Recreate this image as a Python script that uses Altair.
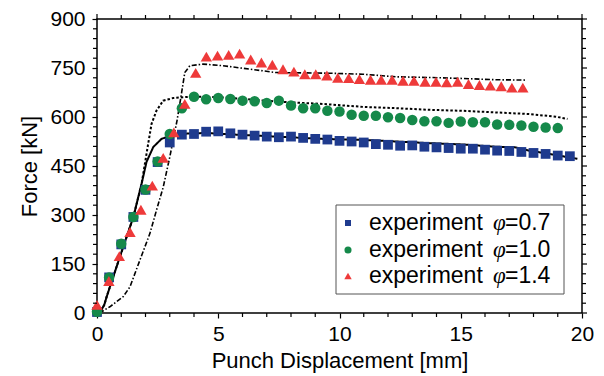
import altair as alt
import pandas as pd

# ---------------- data ----------------
blue_x = [0, 0.5, 1.0, 1.5, 2.0, 2.5, 3.0, 3.5, 4.0, 4.5, 5.0, 5.5, 6.0, 6.5, 7.0, 7.5, 8.0, 8.5, 9.0, 9.5,
          10.0, 10.5, 11.0, 11.5, 12.0, 12.5, 13.0, 13.5, 14.0, 14.5, 15.0, 15.5, 16.0, 16.5, 17.0, 17.5,
          18.0, 18.5, 19.0, 19.5]
blue_y = [3, 109, 210, 294, 377, 462, 522, 546, 548, 555, 556, 550, 546, 543, 540, 538, 540, 536, 533, 531,
          527, 525, 522, 517, 515, 512, 513, 509, 507, 505, 503, 503, 500, 497, 496, 493, 490, 487, 482, 480]

green_x = [0, 0.5, 1.0, 1.5, 2.0, 2.5, 3.0, 3.5, 4.0, 4.5, 5.0, 5.5, 6.0, 6.5, 7.0, 7.5, 8.0, 8.5, 9.0, 9.5,
           10.0, 10.5, 11.0, 11.5, 12.0, 12.5, 13.0, 13.5, 14.0, 14.5, 15.0, 15.5, 16.0, 16.5, 17.0, 17.5,
           18.0, 18.5, 19.0]
green_y = [4, 109, 212, 294, 378, 464, 548, 627, 662, 654, 658, 655, 650, 648, 643, 650, 635, 627, 627, 619,
           617, 607, 604, 604, 599, 597, 591, 587, 587, 582, 586, 584, 584, 577, 576, 574, 570, 568, 566]

red_x = [0.0, 0.49, 0.92, 1.36, 1.81, 2.28, 2.73, 3.17, 3.62, 4.07, 4.51, 4.97, 5.43, 5.88, 6.34, 6.78,
         7.23, 7.67, 8.12, 8.57, 9.02, 9.48, 9.93, 10.38, 10.82, 11.28, 11.72, 12.17, 12.62, 13.07, 13.53,
         13.98, 14.42, 14.87, 15.32, 15.77, 16.22, 16.67, 17.11, 17.56]
red_y = [25, 98, 174, 248, 316, 390, 475, 553, 640, 735, 785, 788, 790, 794, 776, 767, 760, 746, 739, 731,
         731, 727, 720, 719, 716, 714, 714, 714, 711, 711, 708, 708, 706, 708, 701, 698, 696, 694, 690, 690]

sim07_x = [0, 0.15, 0.3, 0.4, 0.67, 1.08, 1.5, 1.84, 2.04, 2.32, 2.66, 3.14, 3.83, 4.51, 5.2, 6.57, 7.94,
           9.31, 10.96, 12.33, 13.7, 15.07, 16.45, 17.27, 17.82, 18.5, 19.19, 19.81]
sim07_y = [0, 5, 25, 50, 111, 202, 294, 396, 462, 508, 533, 545, 550, 551, 548, 543, 538,
           533, 530, 525, 520, 516, 509, 507, 497, 489, 480, 472]

sim10_x = [0, 0.15, 0.3, 0.4, 0.67, 1.08, 1.5, 1.84, 2.11, 2.25, 2.45, 2.73, 3.14, 3.83, 4.51, 5.2, 6.57,
           7.94, 9.31, 10.96, 12.33, 13.7, 15.07, 16.45, 17.82, 18.92, 19.4]
sim10_y = [0, 5, 25, 50, 111, 202, 294, 396, 518, 579, 619, 650, 658, 662, 662, 660, 652,
           645, 640, 631, 627, 622, 619, 614, 609, 601, 594]

sim14_x = [0.1, 0.53, 1.08, 1.36, 1.77, 2.18, 2.45, 2.73, 3.0, 3.3, 3.48, 3.62, 3.83, 4.37, 5.2, 6.57,
           7.39, 8.63, 9.59, 10.96, 12.33, 13.7, 15.07, 16.45, 17.68]
sim14_y = [0, 19, 50, 80, 162, 243, 314, 385, 477, 589, 670, 736, 757, 762, 757, 744,
           736, 735, 734, 731, 723, 721, 718, 714, 713]

x_major = [0, 5, 10, 15, 20]
x_minor = [v for v in range(0, 21) if v % 5 != 0]
y_major = [0, 150, 300, 450, 600, 750, 900]
y_minor = [v for v in range(0, 901, 30) if v % 150 != 0]

legend_values = ["=0.7", "=1.0", "=1.4"]
colors = ["#1f3b8e", "#15894a", "#ee3a3a"]
shapes = ["square", "circle", "triangle-up"]

FONT = "Liberation Sans"
W, H = 485, 294

xs = alt.Scale(domain=[0, 20], nice=False, zero=False)
ys = alt.Scale(domain=[0, 900], nice=False, zero=False)

xaxis = alt.Axis(values=x_major, format="d", title="Punch Displacement [mm]", grid=False, domain=False,
                 tickSize=5, tickColor="black", tickWidth=1.2, labelFontSize=21, labelFont=FONT,
                 labelColor="black", labelPadding=5, labelFlush=False, labelOverlap=False,
                 titleFont=FONT, titleFontSize=22,
                 titleFontWeight="normal", titleColor="black", titlePadding=6)
yaxis = alt.Axis(values=y_major, format="d", title="Force [kN]", grid=False, domain=False,
                 tickSize=5, tickColor="black", tickWidth=1.2, labelFontSize=21, labelFont=FONT,
                 labelColor="black", labelPadding=7, labelFlush=False, labelOverlap=False,
                 titleFont=FONT, titleFontSize=22,
                 titleFontWeight="normal", titleColor="black", titlePadding=8)


def line_layer(xv, yv, dash, width):
    df = pd.DataFrame({"x": xv, "y": yv})
    return alt.Chart(df).mark_line(color="black", strokeWidth=width, strokeDash=dash).encode(
        x=alt.X("x:Q", scale=xs, axis=xaxis), y=alt.Y("y:Q", scale=ys, axis=yaxis))


def point_layer(xv, yv, shape, color, size):
    df = pd.DataFrame({"x": xv, "y": yv})
    return alt.Chart(df).mark_point(filled=True, opacity=1, shape=shape, color=color, size=size).encode(
        x=alt.X("x:Q", scale=xs), y=alt.Y("y:Q", scale=ys))


layers = []
layers.append(line_layer(sim07_x, sim07_y, [1, 0], 2))
layers.append(line_layer(sim10_x, sim10_y, [2.5, 2], 2))
layers.append(line_layer(sim14_x, sim14_y, [5, 2, 1.5, 2], 1.6))
layers.append(point_layer(blue_x, blue_y, shapes[0], colors[0], 95))
layers.append(point_layer(green_x, green_y, shapes[1], colors[1], 110))
layers.append(point_layer(red_x, red_y, shapes[2], colors[2], 130))

# minor / mirrored ticks
xmin_df = pd.DataFrame({"x": x_minor})
xmaj_df = pd.DataFrame({"x": x_major})
ymin_df = pd.DataFrame({"y": y_minor})
ymaj_df = pd.DataFrame({"y": y_major})
tick = dict(color="black", strokeWidth=1.2)
layers.append(alt.Chart(xmin_df).mark_rule(**tick).encode(
    x=alt.X("x:Q", scale=xs), y=alt.value(H), y2=alt.value(H + 4)))
layers.append(alt.Chart(xmin_df).mark_rule(**tick).encode(
    x=alt.X("x:Q", scale=xs), y=alt.value(-4), y2=alt.value(0)))
layers.append(alt.Chart(xmaj_df).mark_rule(**tick).encode(
    x=alt.X("x:Q", scale=xs), y=alt.value(-5), y2=alt.value(0)))
layers.append(alt.Chart(ymin_df).mark_rule(**tick).encode(
    y=alt.Y("y:Q", scale=ys), x=alt.value(-4), x2=alt.value(0)))
layers.append(alt.Chart(ymin_df).mark_rule(**tick).encode(
    y=alt.Y("y:Q", scale=ys), x=alt.value(W), x2=alt.value(W + 4)))
layers.append(alt.Chart(ymaj_df).mark_rule(**tick).encode(
    y=alt.Y("y:Q", scale=ys), x=alt.value(W), x2=alt.value(W + 5)))

# legend (manual, for italic phi)
one = pd.DataFrame({"a": [0]})
layers.append(alt.Chart(one).mark_rect(fill="white", stroke="#555555", strokeWidth=1).encode(
    x=alt.value(239), x2=alt.value(467), y=alt.value(186), y2=alt.value(275)))
row_y = [204, 231, 257]
sym_sizes = [36, 50, 55]
for i in range(3):
    layers.append(alt.Chart(one).mark_point(filled=True, opacity=1, shape=shapes[i], color=colors[i],
                                            size=sym_sizes[i]).encode(
        x=alt.value(251), y=alt.value(row_y[i])))
    layers.append(alt.Chart(one).mark_text(text="experiment", font=FONT, fontSize=23, align="left",
                                           baseline="middle", color="black").encode(
        x=alt.value(272), y=alt.value(row_y[i])))
    layers.append(alt.Chart(one).mark_text(text="φ", font="Liberation Serif", fontStyle="italic",
                                           fontSize=23, align="left", baseline="middle",
                                           color="black").encode(
        x=alt.value(396), y=alt.value(row_y[i])))
    layers.append(alt.Chart(one).mark_text(text=legend_values[i], font=FONT, fontSize=23, align="left",
                                           baseline="middle", color="black").encode(
        x=alt.value(408), y=alt.value(row_y[i])))

chart = alt.layer(*layers).properties(
    width=W, height=H,
    autosize=alt.AutoSizeParams(type="none"),
    padding={"left": 97, "top": 19, "right": 22, "bottom": 63},
    background="white",
).configure_view(stroke="black", strokeWidth=1.5)

chart.save("out.html", embed_options={"renderer": "svg", "actions": False})
